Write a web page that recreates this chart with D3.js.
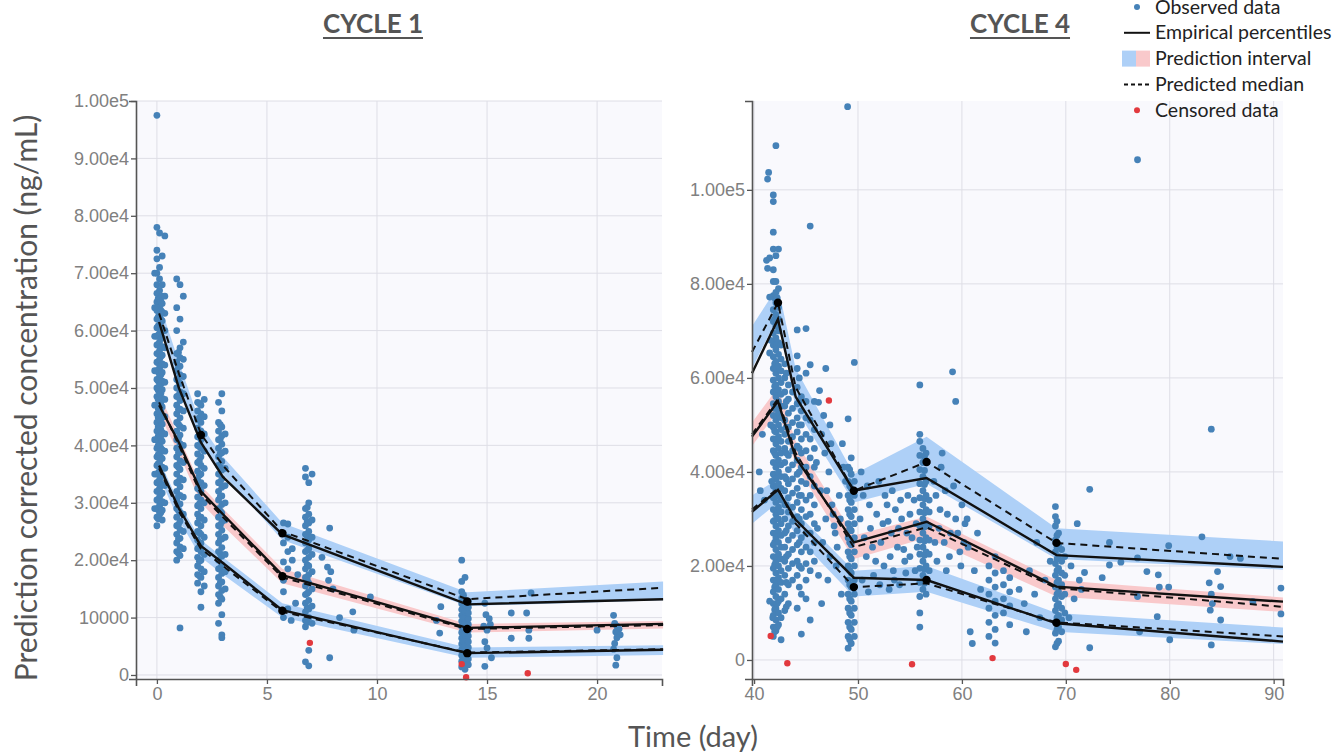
<!DOCTYPE html>
<html>
<head>
<meta charset="utf-8">
<script src="https://cdn.jsdelivr.net/npm/d3@7"></script>
<style>
body { margin: 0; background: #fff; }
svg { display: block; }
</style>
</head>
<body>
<svg id="chart" width="1338" height="752"></svg>
<script>
// concentrations below are in thousands of ng/mL
let top_ = 101, bottom_ = 679;

// ---- cycle 1 ----
let c1XTicks = [0, 5, 10, 15, 20];
let c1YTicks = [0, 10000, 20000, 30000, 40000, 50000, 60000, 70000, 80000, 90000, 100000];
let c1YLabels = ['0', '10000', '2.00e4', '3.00e4', '4.00e4', '5.00e4', '6.00e4', '7.00e4', '8.00e4', '9.00e4', '1.00e5'];

let c1BinT = [0.1, 1, 2, 3, 5.7, 14.1, 23];
let c1EmpHi = [61.5, 50, 40.5, 34.5, 24.5, 12.3, 13.2];
let c1EmpMid = [47, 40.5, 32, 28, 17.4, 8.2, 8.9];
let c1EmpLo = [36.5, 29, 22.5, 19.5, 11.3, 3.8, 4.4];
let c1PredHi = [63, 52.5, 42, 36.5, 25, 13.2, 15.2];
let c1PredMid = [47.5, 40, 31.5, 27.5, 17, 8, 8.7];
let c1PredLo = [36, 28.5, 22, 19, 11, 3.9, 4.5];
let c1PiHiLo = [60.5, 50.5, 40.5, 35, 23.5, 12, 13];
let c1PiHiUp = [65, 54.5, 43.5, 38, 26.5, 14.4, 16.3];
let c1PiMidLo = [45.5, 38.5, 30, 26, 16, 7.4, 8.1];
let c1PiMidUp = [49, 41.5, 33, 29, 18.5, 8.9, 9.4];
let c1PiLoLo = [34.5, 27, 20.5, 17.5, 10, 3, 3.5];
let c1PiLoUp = [37.5, 30, 23.5, 20.5, 12.5, 4.8, 5.2];
let c1Marks = [[2, 41.8], [5.7, 24.7], [5.7, 17.2], [5.7, 11.2], [14.1, 12.8], [14.1, 8.0], [14.1, 3.8]];

let c1ObsCols = [
	{ t: 0.0, v: [26, 27.5, 29, 30.5, 32, 33.5, 35, 36.5, 38, 39.5, 41, 42.5, 44, 45.5, 47, 48.5, 50, 51.5, 53, 54.5, 56, 57.5, 59, 60.5, 62, 63.5, 65, 66.5, 68, 70, 72.5, 74, 78, 97.5] },
	{ t: 0.06, v: [27.2, 28.8, 30.4, 32, 33.6, 35.2, 36.8, 38.4, 40, 41.6, 43.2, 44.8, 46.4, 48, 49.6, 51.2, 52.8, 54.4, 56, 57.6, 59.2, 60.8, 62.4, 64, 65.6] },
	{ t: 0.12, v: [28, 29.5, 31, 32.5, 34, 35.5, 37, 38.5, 40, 41.5, 43, 44.5, 46, 47.5, 49, 50.5, 52, 53.5, 55, 56.5, 58, 59.5, 61, 62.5, 64, 65.5, 67, 69, 71, 77] },
	{ t: 0.18, v: [28.3, 29.9, 31.5, 33.1, 34.7, 36.3, 37.9, 39.5, 41.1, 42.7, 44.3, 45.9, 47.5, 49.1, 50.7, 52.3, 53.9, 55.5, 57.1, 58.7, 60.3, 61.9, 63.5, 65.1] },
	{ t: 0.24, v: [27, 28.7, 30.2, 31.7, 33.2, 34.7, 36.2, 37.7, 39.2, 40.7, 42.2, 43.7, 45.2, 46.7, 48.2, 49.7, 51.2, 52.7, 54.2, 55.7, 57.2, 58.7, 60.2, 61.7, 63.2, 64.7, 66, 68, 73] },
	{ t: 0.36, v: [30, 33, 36, 39, 42, 45, 48, 51, 54, 57, 60, 63, 66, 76.5] },
	{ t: -0.1, v: [29, 35, 41, 47, 53, 59, 64, 70] },
	{ t: 0.9, v: [20, 21.5, 23, 24.5, 26, 27.5, 29, 30.5, 32, 33.5, 35, 36.5, 38, 39.5, 41, 42.5, 44, 45.5, 47, 48.5, 50, 51.5, 53, 54.5, 56, 60, 64, 69] },
	{ t: 0.98, v: [21.2, 23.7, 26.2, 28.7, 31.2, 33.7, 36.2, 38.7, 41.2, 43.7, 46.2, 48.7, 51.2, 53.7, 56.2] },
	{ t: 1.05, v: [8.2, 20.8, 22.3, 23.8, 25.3, 26.8, 28.3, 29.8, 31.3, 32.8, 34.3, 35.8, 37.3, 38.8, 40.3, 41.8, 43.3, 44.8, 46.3, 47.8, 49.3, 50.8, 52.3, 53.8, 55.3, 57, 62, 68] },
	{ t: 1.2, v: [22, 25, 28, 31, 34, 37, 40, 43, 46, 49, 52, 55, 58, 66] },
	{ t: 1.85, v: [16, 17.5, 19, 20.5, 22, 23.5, 25, 26.5, 28, 29.5, 31, 32.5, 34, 35.5, 37, 38.5, 40, 41.5, 43, 44.5, 46, 47.5, 49] },
	{ t: 1.93, v: [17.3, 19.8, 22.3, 24.8, 27.3, 29.8, 32.3, 34.8, 37.3, 39.8, 42.3, 44.8, 47.3] },
	{ t: 2.0, v: [11.8, 14.5, 17, 18.5, 20, 21.5, 23, 24.5, 26, 27.5, 29, 30.5, 32, 33.5, 35, 36.5, 38, 39.5, 41, 42.5, 44, 45.5, 47] },
	{ t: 2.15, v: [15.5, 18, 21, 24, 27, 30, 33, 36, 39, 42, 45, 48] },
	{ t: 2.8, v: [9, 12.5, 14, 15.5, 17, 18.5, 20, 21.5, 23, 24.5, 26, 27.5, 29, 30.5, 32, 33.5, 35, 36.5, 38, 39.5, 41, 42.5, 44, 47.5] },
	{ t: 2.88, v: [13.6, 16.1, 18.6, 21.1, 23.6, 26.1, 28.6, 31.1, 33.6, 36.1, 38.6, 41.1, 43.6] },
	{ t: 2.95, v: [6.5, 7, 10.5, 13.2, 14.7, 16.2, 17.7, 19.2, 20.7, 22.2, 23.7, 25.2, 26.7, 28.2, 29.7, 31.2, 32.7, 34.2, 35.7, 37.2, 38.7, 40.2, 41.7, 43.2, 46, 49] },
	{ t: 3.1, v: [15, 18, 21, 24, 27, 30, 33, 36, 39, 42] },
	{ t: 5.75, v: [10, 14.5, 16.5, 19.7, 23, 26.5] },
	{ t: 5.95, v: [11.5, 18.5, 21.5, 24, 26.3] },
	{ t: 6.15, v: [20, 22] },
	{ t: 6.75, v: [2.3, 8.4, 9.5, 11, 12.5, 14, 15.5, 17, 18.5, 20, 21.5, 23, 24.5, 26, 27.5, 29, 34.5, 36] },
	{ t: 6.83, v: [9.2, 11.7, 14.2, 16.7, 19.2, 21.7, 24.2, 26.7, 29.2] },
	{ t: 6.9, v: [1.6, 4.3, 10, 11.5, 13, 14.5, 16, 17.5, 19, 20.5, 22, 23.5, 25, 26.5, 28, 30, 33.5] },
	{ t: 7.05, v: [9, 12, 15, 18, 21, 24, 27, 35] },
	{ t: 13.85, v: [1.4, 2.4, 3.4, 4.4, 5.4, 6.4, 7.4, 8.4, 9.4, 10.4, 11.4, 12.4, 13.4, 14.5, 16.3, 20] },
	{ t: 13.93, v: [1.9, 3.9, 5.9, 7.9, 9.9, 11.9, 13.9] },
	{ t: 14.0, v: [1, 2, 3, 4, 5, 6, 7, 8, 9, 10, 11, 12, 13, 17] },
	{ t: 14.15, v: [1.8, 2.8, 3.8, 4.8, 5.8, 6.8, 7.8, 8.8, 9.8, 10.8, 11.8, 12.8] },
];
let c1ObsPts = [
	[7.85, 25.6], [7.75, 18.8], [7.9, 18], [7.8, 16.5], [8.0, 15], [8.9, 11], [8.95, 7.8], [7.85, 3],
	[9.7, 13.6], [8.3, 10], [7.5, 20.5], [6.4, 17.5], [6.3, 12.5], [6.1, 9.5],
	[12.9, 11.9], [12.85, 7.3], [12.7, 9.5],
	[14.9, 12.5], [14.95, 10.5], [15.1, 9.8], [14.85, 8.5], [15.0, 7.8], [14.9, 5.8], [15.0, 4.7], [15.2, 3], [14.9, 1.5], [15.15, 8.8],
	[16.1, 10.8], [16.1, 6.4], [16.8, 10.8], [16.9, 7.8], [16.9, 6.4], [17.0, 14.3],
	[20.75, 10.4], [20.8, 9], [20.9, 8.5], [21.0, 8], [20.85, 7.5], [21.05, 7], [20.9, 6.5], [20.8, 5.5], [20.75, 4.5], [20.9, 3], [20.85, 1.7], [20, 7.8],
];
let c1Cens = [[6.95, 5.6], [13.85, 1.9], [14.05, -0.4], [16.85, 0.3]];

// ---- cycle 4 ----
let c4XTicks = [40, 50, 60, 70, 80, 90];
let c4YTicks = [0, 20000, 40000, 60000, 80000, 100000];
let c4YLabels = ['0', '2.00e4', '4.00e4', '6.00e4', '8.00e4', '1.00e5'];

let c4BinT = [39.8, 42.3, 44.0, 49.6, 56.6, 69.1, 90.9];
let c4EmpHi = [61, 72.5, 56, 36, 38.7, 22.3, 19.8];
let c4EmpMid = [47.5, 55, 43, 25, 29.4, 15.6, 12.4];
let c4EmpLo = [31.5, 36.2, 29.8, 17.5, 17, 7.8, 3.9];
let c4PredHi = [65.5, 76, 58, 36, 42.1, 24.9, 21.5];
let c4PredMid = [48, 55.5, 44, 24, 28.2, 15.3, 11.3];
let c4PredLo = [32, 36.5, 29, 15.5, 16.3, 8, 5];
let c4PiHiLo = [62, 73, 53.5, 33.5, 37.5, 21.5, 19.2];
let c4PiHiUp = [71, 79.5, 62, 39.5, 47.5, 28, 25.2];
let c4PiMidLo = [45.5, 53, 41.5, 21.5, 26, 13.5, 10.2];
let c4PiMidUp = [50.5, 58, 46.5, 26.5, 30.5, 17, 13.3];
let c4PiLoLo = [29, 33.5, 26.5, 13.5, 14.5, 6, 3.4];
let c4PiLoUp = [35, 38.5, 31.5, 19, 20, 10, 6.9];
let c4Marks = [[42.3, 76], [49.6, 36], [49.6, 15.5], [56.6, 42.1], [56.6, 17], [69.1, 24.9], [69.1, 7.9]];

let c4ObsCols = [
	{ t: 41.85, v: [5, 7, 9.5, 12, 14.5, 17, 19.5, 22, 24.5, 27, 29.5, 32, 34.5, 37, 39.5, 42, 44.5, 47, 49.5, 52, 54.5, 57, 59.5, 62, 64.5, 67, 69.5, 72, 74.5, 77.5, 80.5, 83, 87.4, 91, 97.5, 98.9] },
	{ t: 41.98, v: [6, 10.7, 15.5, 20.2, 25, 29.7, 34.5, 39.2, 44, 48.7, 53.5, 58.2, 63, 67.7, 72.5, 77] },
	{ t: 42.1, v: [6.2, 8.5, 11, 13.5, 16, 18.5, 21, 23.5, 26, 28.5, 31, 33.5, 36, 38.5, 41, 43.5, 46, 48.5, 51, 53.5, 56, 58.5, 61, 63.5, 66, 68.5, 71, 73.5, 76, 78.2, 80.5, 86, 109.4] },
	{ t: 42.22, v: [7, 12, 17, 22, 27, 32, 37, 42, 47, 52, 57, 62, 67, 72, 77] },
	{ t: 42.35, v: [7.5, 10, 12.5, 15, 17.5, 20, 22.5, 25, 27.5, 30, 32.5, 35, 37.5, 40, 42.5, 45, 47.5, 50, 52.5, 55, 57.5, 60, 62.5, 65, 67.5, 70, 72.5, 75, 79, 87.4] },
	{ t: 42.6, v: [4.3, 9, 13, 16.5, 19, 21.5, 24, 26.5, 29, 31.5, 34, 36.5, 39, 41.5, 44, 46.5, 49, 51.5, 54, 56.5, 59, 61.5, 64, 67] },
	{ t: 42.95, v: [10.5, 14, 18, 21, 24, 27, 30, 33, 36, 39, 42, 45, 48, 51, 54, 57, 60, 63] },
	{ t: 43.1, v: [11.3, 16.5, 22, 27.5, 33, 38.5, 44, 49.5, 55, 61] },
	{ t: 43.3, v: [12, 16, 19.5, 22.5, 25.5, 28.5, 31.5, 34.5, 37.5, 40.5, 43.5, 46.5, 49.5, 52.5, 55.5, 58.5] },
	{ t: 43.7, v: [17, 20.5, 23.5, 26.5, 29.5, 32.5, 35.5, 38.5, 41.5, 44.5, 47.5, 50.5, 53.5, 57] },
	{ t: 44.15, v: [11, 18, 21, 24.5, 27.5, 30.5, 33.5, 36.5, 39.5, 42.5, 45.5, 48.5, 51.5, 54.5, 58, 62, 64.7, 70.2] },
	{ t: 44.35, v: [15.5, 20, 25, 30, 35, 40, 45, 50, 55, 60] },
	{ t: 44.55, v: [5.5, 14, 19.5, 23, 26, 29, 32, 35, 38, 41, 44, 47, 50, 53, 56] },
	{ t: 45.0, v: [13, 17, 20.5, 24, 27, 30.5, 34, 37.5, 41, 44.5, 48, 51.5, 55, 61, 70.5] },
	{ t: 45.4, v: [8.5, 19, 23, 27, 31, 35, 39, 43, 47, 51, 62.8, 92.3] },
	{ t: 45.8, v: [21, 25, 29, 33, 37, 41, 45, 49, 55] },
	{ t: 49.05, v: [2.5, 5, 8, 11, 14, 17, 20, 23, 26, 29, 32, 35, 38, 41, 51.3] },
	{ t: 49.2, v: [4.3, 7, 10, 13, 16, 19, 22, 25, 28, 31, 34, 37, 40.5] },
	{ t: 49.35, v: [3.5, 6.5, 9.5, 12.5, 15.5, 18.5, 21.5, 24.5, 27.5, 30.5, 33.5, 36.5, 39.5, 43] },
	{ t: 49.65, v: [5, 8, 11, 14, 17, 20, 23, 26, 29, 32, 35, 38, 63.3] },
	{ t: 55.95, v: [7, 10, 13.5, 16.5, 19.5, 22.5, 25.5, 28.5, 31.5, 34.5, 37.5, 40.5, 43.5, 46.5, 48, 58.5] },
	{ t: 56.25, v: [15, 18, 21, 24, 27, 30, 33, 36, 39, 42, 45] },
	{ t: 56.4, v: [16.3, 19.3, 22.3, 25.3, 28.3, 31.3, 34.3, 37.3, 40.3, 43.3] },
	{ t: 56.55, v: [14, 17, 20, 23, 26, 29, 32, 35, 38, 44] },
	{ t: 56.85, v: [19, 22.5, 25.5, 28.5, 31.5, 34] },
	{ t: 62.6, v: [5, 8, 11, 14, 17, 20] },
	{ t: 63.2, v: [3.6, 6.5, 9.5, 12.5, 15.5, 18.5, 22] },
	{ t: 64.0, v: [10, 13, 16, 19] },
	{ t: 64.6, v: [7.5, 11.5, 14.5, 17.5] },
	{ t: 69.0, v: [2.8, 5.7, 8, 10.5, 13, 15.5, 18, 20.5, 23, 25.5, 28.5, 30.5, 32.6] },
	{ t: 69.15, v: [3.5, 6.5, 9, 11.5, 14, 16.5, 19, 21.5, 24, 26.5, 29.5] },
	{ t: 69.3, v: [4, 7, 9.5, 12, 14.5, 17, 19.5, 22, 24.5, 27] },
	{ t: 69.6, v: [6, 8.5, 11, 13.5, 16, 18.5, 21, 23.5] },
	{ t: 69.9, v: [10, 14, 18, 22] },
];
let c4ObsPts = [
	[40.5, 40], [40.6, 36], [41.0, 34], [41.2, 85], [41.5, 85.5], [41.3, 83.3], [41.5, 77.2], [41.5, 65.3], [41.6, 68],
	[41.4, 103.7], [41.3, 102.3], [40.8, 48], [41.6, 50], [41.7, 38], [41.5, 12.5], [41.8, 9],
	[46.3, 57.3], [46.2, 54.8], [46.5, 48], [46.8, 44], [47.2, 40], [46.4, 36], [47.5, 33], [46.9, 30], [47.8, 27],
	[46.6, 25], [47.3, 22], [47.9, 20], [46.2, 18], [48.2, 35], [48.5, 46], [47.7, 28.5], [49.0, 117.7],
	[46, 42], [46.7, 52], [47, 36], [47.4, 46], [47.6, 31], [48, 24], [48.3, 30], [48.6, 41], [46.1, 28],
	[47.1, 17], [48.4, 14], [46.5, 12], [47.3, 50], [48.8, 38], [46.9, 62],
	[50.5, 35], [50.8, 22], [51.2, 28], [51.5, 18], [51.8, 31], [52.2, 25], [52.5, 20], [52.8, 33], [53.2, 27],
	[53.5, 17], [53.8, 24], [54.2, 30], [54.5, 21], [54.8, 35], [55.2, 26], [55.5, 19], [50.3, 40], [52, 38],
	[53, 15], [51, 14.5], [54, 16], [55, 31], [50.6, 26], [52.9, 29.5], [54.4, 23.5], [53.6, 32],
	[50.2, 30], [50.9, 37], [51.4, 24], [51.7, 21], [52.4, 29], [52.6, 35], [53.1, 22], [53.4, 19], [53.9, 28],
	[54.1, 34], [54.7, 27], [55, 22], [55.4, 34], [55.7, 24], [50.4, 17], [51.1, 33], [52.1, 16], [53.3, 36],
	[54.6, 18.5], [55.6, 29],
	[57.5, 35], [57.8, 28], [58, 41], [58.3, 25], [58.6, 31], [59.1, 61.3], [59.4, 55], [58.8, 22], [59.2, 37],
	[59.6, 27], [60.0, 33], [59.8, 23], [57.6, 21], [60.3, 29], [58.1, 44],
	[57.3, 38], [57.9, 32], [58.4, 36], [58.9, 27], [59.4, 30], [59.9, 20], [60.2, 25], [57.4, 25], [58.5, 19], [60.5, 30],
	[60.6, 24], [61.2, 19], [61.5, 27], [60.8, 6], [61.8, 15], [61.0, 3.5],
	[65.5, 15], [66, 12], [66.5, 19], [67, 14], [67.5, 9], [68, 17], [68.5, 21], [66.2, 6], [67.2, 25],
	[71.1, 29], [70.5, 20], [70.8, 13], [71.3, 17], [70.3, 9], [71.5, 15],
	[72.3, 36.3], [72.3, 2.6], [71.8, 18.6], [73.5, 17.5], [74.2, 25], [74.2, 20.2], [75.3, 20.8], [76.9, 21.7],
	[76.9, 13.5], [77.1, 6.0], [76.9, 106.4], [77.8, 18.8], [78.9, 18.1], [78.8, 9.2], [79.0, 15.5], [79.9, 15.5],
	[79.9, 24.3], [80.0, 4.3], [83.1, 26.2], [84.0, 49.1], [83.8, 16.4], [84.0, 14], [84.1, 12], [83.9, 10.6],
	[84.6, 18.8], [84.9, 15.6], [84.9, 8.5], [84.0, 3.2], [85.8, 22], [86.8, 21.6], [88.0, 12.4], [90.7, 15.3], [90.7, 9.8],
];
let c4Cens = [[41.6, 5.1], [43.2, -0.7], [47.2, 55.2], [55.2, -0.9], [62.95, 0.4], [70.0, -0.85], [71.0, -2.1]];

let panels = [
	{
		title: 'CYCLE 1', titleX: 373, left: 136, right: 662, xDom: [-0.95, 22.95], yDom: [-700, 100000],
		xTicks: c1XTicks, yTicks: c1YTicks, yLabels: c1YLabels,
		binT: c1BinT, emp: [c1EmpHi, c1EmpMid, c1EmpLo], pred: [c1PredHi, c1PredMid, c1PredLo],
		pi: [[c1PiHiLo, c1PiHiUp, 'hi'], [c1PiMidLo, c1PiMidUp, 'mid'], [c1PiLoLo, c1PiLoUp, 'hi']],
		marks: c1Marks, cols: c1ObsCols, pts: c1ObsPts, cens: c1Cens,
	},
	{
		title: 'CYCLE 4', titleX: 1020, left: 752, right: 1283, xDom: [39.8, 90.9], yDom: [-4050, 118900],
		xTicks: c4XTicks, yTicks: c4YTicks, yLabels: c4YLabels,
		binT: c4BinT, emp: [c4EmpHi, c4EmpMid, c4EmpLo], pred: [c4PredHi, c4PredMid, c4PredLo],
		pi: [[c4PiHiLo, c4PiHiUp, 'hi'], [c4PiMidLo, c4PiMidUp, 'mid'], [c4PiLoLo, c4PiLoUp, 'hi']],
		marks: c4Marks, cols: c4ObsCols, pts: c4ObsPts, cens: c4Cens,
	},
];

let blueBand = '#aed0f7', pinkBand = '#f9c9cb';
let obsColor = '#4682b8', censColor = '#e2393e';

let svg = d3.select('#chart');

function drawPanel(p) {
	let x = d3.scaleLinear().domain(p.xDom).range([p.left, p.right]);
	let y = d3.scaleLinear().domain(p.yDom).range([bottom_, top_]);
	let g = svg.append('g');

	g.append('rect')
		.attr('x', p.left).attr('y', top_)
		.attr('width', p.right - p.left).attr('height', bottom_ - top_)
		.attr('fill', '#f9f9fd');

	// grid
	g.selectAll('.gx').data(p.xTicks).enter().append('line')
		.attr('x1', (d) => x(d)).attr('x2', (d) => x(d))
		.attr('y1', top_).attr('y2', bottom_)
		.attr('stroke', '#dedee6').attr('stroke-width', 1);
	g.selectAll('.gy').data(p.yTicks).enter().append('line')
		.attr('x1', p.left).attr('x2', p.right)
		.attr('y1', (d) => y(d)).attr('y2', (d) => y(d))
		.attr('stroke', '#dedee6').attr('stroke-width', 1);

	// prediction intervals
	p.pi.forEach((band) => {
		let area = d3.area()
			.x((d, i) => x(p.binT[i]))
			.y0((d, i) => y(band[0][i] * 1000))
			.y1((d, i) => y(band[1][i] * 1000));
		g.append('path').datum(p.binT).attr('d', area)
			.attr('fill', band[2] == 'mid' ? pinkBand : blueBand);
	});

	// observed data
	let obs = [];
	p.cols.forEach((c) => c.v.forEach((v) => obs.push([c.t, v])));
	p.pts.forEach((d) => obs.push(d));
	g.selectAll('.obs').data(obs).enter().append('circle')
		.attr('cx', (d) => x(d[0])).attr('cy', (d) => y(d[1] * 1000))
		.attr('r', 3.4).attr('fill', obsColor);
	g.selectAll('.cens').data(p.cens).enter().append('circle')
		.attr('cx', (d) => x(d[0])).attr('cy', (d) => y(d[1] * 1000))
		.attr('r', 3.2).attr('fill', censColor);

	// percentiles
	p.emp.forEach((vals) => {
		let line = d3.line().x((d, i) => x(p.binT[i])).y((d, i) => y(vals[i] * 1000));
		g.append('path').datum(p.binT).attr('d', line)
			.attr('fill', 'none').attr('stroke', '#111').attr('stroke-width', 2.4);
	});
	p.pred.forEach((vals) => {
		let line = d3.line().x((d, i) => x(p.binT[i])).y((d, i) => y(vals[i] * 1000));
		g.append('path').datum(p.binT).attr('d', line)
			.attr('fill', 'none').attr('stroke', '#111').attr('stroke-width', 2)
			.attr('stroke-dasharray', '7,5');
	});
	g.selectAll('.mark').data(p.marks).enter().append('circle')
		.attr('cx', (d) => x(d[0])).attr('cy', (d) => y(d[1] * 1000))
		.attr('r', 4.2).attr('fill', '#000');

	// axes
	let ax = g.append('g').attr('transform', 'translate(0,' + bottom_ + ')')
		.call(d3.axisBottom(x).tickValues(p.xTicks).tickSize(5).tickSizeOuter(7).tickPadding(3));
	let ay = g.append('g').attr('transform', 'translate(' + p.left + ',0)')
		.call(d3.axisLeft(y).tickValues(p.yTicks).tickFormat((d, i) => p.yLabels[i]).tickSize(5).tickSizeOuter(7).tickPadding(2));
	[ax, ay].forEach((a) => {
		a.select('.domain').attr('stroke', '#555').attr('stroke-width', 1.6);
		a.selectAll('.tick line').attr('stroke', '#555').attr('stroke-width', 1.3);
		a.selectAll('.tick text').attr('fill', '#808080')
			.style('font-family', 'Liberation Sans, Arial, sans-serif').style('font-size', '18px');
	});

	// title
	let t = svg.append('text').attr('x', p.titleX).attr('y', 33)
		.attr('text-anchor', 'middle').attr('fill', '#555')
		.style('font-family', 'Lato, sans-serif').style('font-weight', 'bold').style('font-size', '26px')
		.text(p.title);
	let bb = t.node().getBBox();
	svg.append('line').attr('x1', bb.x).attr('x2', bb.x + bb.width)
		.attr('y1', 38).attr('y2', 38).attr('stroke', '#555').attr('stroke-width', 2);
}

panels.forEach(drawPanel);

// axis titles
svg.append('text')
	.attr('transform', 'translate(37,398) rotate(-90)')
	.attr('text-anchor', 'middle').attr('fill', '#555')
	.style('font-family', 'Lato, sans-serif').style('font-size', '30px')
	.text('Prediction corrected concentration (ng/mL)');
svg.append('text').attr('x', 693).attr('y', 747)
	.attr('text-anchor', 'middle').attr('fill', '#555')
	.style('font-family', 'Lato, sans-serif').style('font-size', '29px')
	.text('Time (day)');

// legend
let legendNames = ['Observed data', 'Empirical percentiles', 'Prediction interval', 'Predicted median', 'Censored data'];
let lg = svg.append('g');
legendNames.forEach((name, i) => {
	let cy = 7 + i * 25.8;
	if (i == 0 || i == 4) {
		lg.append('circle').attr('cx', 1137).attr('cy', cy).attr('r', 3)
			.attr('fill', i == 0 ? obsColor : censColor);
	} else if (i == 1 || i == 3) {
		lg.append('line').attr('x1', 1124).attr('x2', 1150).attr('y1', cy).attr('y2', cy)
			.attr('stroke', '#111').attr('stroke-width', 2)
			.attr('stroke-dasharray', i == 3 ? '4,3' : null);
	} else {
		lg.append('rect').attr('x', 1122).attr('y', cy - 8).attr('width', 14).attr('height', 16).attr('fill', blueBand);
		lg.append('rect').attr('x', 1136).attr('y', cy - 8).attr('width', 14).attr('height', 16).attr('fill', pinkBand);
	}
	lg.append('text').attr('x', 1155).attr('y', cy + 6.5)
		.attr('fill', '#222')
		.style('font-family', 'Lato, sans-serif').style('font-size', '19.5px')
		.text(name);
});
</script>
</body>
</html>
